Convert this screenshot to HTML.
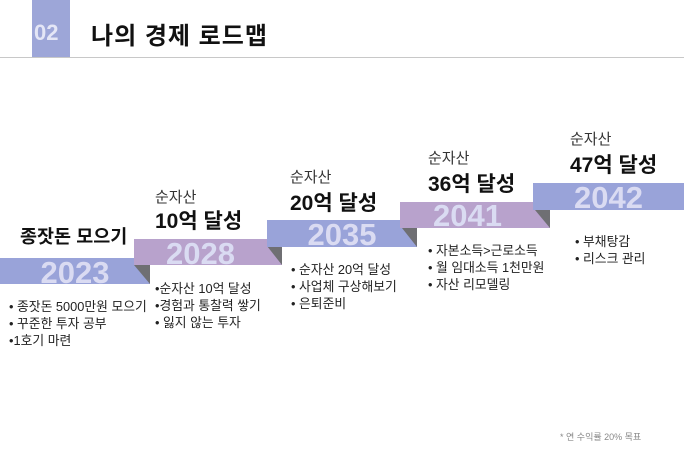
<!DOCTYPE html>
<html><head><meta charset="utf-8"><style>
body{margin:0;width:684px;height:473px;background:#fff;position:relative;overflow:hidden;font-family:"Liberation Sans","Noto Sans CJK KR",sans-serif;color:#222}
.a{position:absolute;white-space:nowrap}
.s{font-size:15px;color:#333}
.b{font-weight:bold;font-size:21px;color:#111}
.l{font-size:12.8px;line-height:17px;color:#222}
.y{position:absolute;font-weight:bold;font-size:31px;color:#dadbf2;text-align:center;line-height:28px}
</style></head><body>
<div class="a" style="left:32px;top:0;width:38px;height:57px;background:#9da6d8"></div>
<div class="a" style="left:34px;top:20px;font-size:22px;font-weight:bold;color:#e4e6f6">02</div>
<div class="a" style="left:91px;top:16px;font-size:24px;font-weight:bold;color:#111;letter-spacing:1px">나의 경제 로드맵</div>
<div class="a" style="left:0;top:57px;width:684px;height:1px;background:#c8c8c8"></div>
<svg class="a" style="left:0;top:0" width="684" height="473">
<rect x="0" y="258" width="150" height="26" fill="#99a3d9"/>
<polygon points="134,265 150,265 150,284" fill="#6f6f73"/>
<rect x="134" y="239" width="148" height="26" fill="#b8a2cc"/>
<polygon points="267,246 282,246 282,265" fill="#6f6f73"/>
<rect x="267" y="220" width="150" height="27" fill="#99a3d9"/>
<polygon points="402,228 417,228 417,247" fill="#6f6f73"/>
<rect x="400" y="202" width="150" height="26" fill="#b8a2cc"/>
<polygon points="535,210 550,210 550,228" fill="#6f6f73"/>
<rect x="533" y="183" width="151" height="27" fill="#99a3d9"/>
</svg>
<div class="y" style="left:10px;width:130px;top:259px">2023</div>
<div class="y" style="left:134px;width:133px;top:240px">2028</div>
<div class="y" style="left:267px;width:150px;top:221px">2035</div>
<div class="y" style="left:400px;width:135px;top:202px">2041</div>
<div class="y" style="left:533px;width:151px;top:184px">2042</div>
<div class="a" style="left:20px;top:223px;font-size:18.5px;font-weight:bold;color:#111">종잣돈 모으기</div>
<div class="a s" style="left:155px;top:186px">순자산</div>
<div class="a b" style="left:155px;top:205px">10억 달성</div>
<div class="a s" style="left:290px;top:166px">순자산</div>
<div class="a b" style="left:290px;top:187px">20억 달성</div>
<div class="a s" style="left:428px;top:147px">순자산</div>
<div class="a b" style="left:428px;top:168px">36억 달성</div>
<div class="a s" style="left:570px;top:128px">순자산</div>
<div class="a b" style="left:570px;top:149px">47억 달성</div>
<div class="a l" style="left:9px;top:298px">• 종잣돈 5000만원 모으기<br>• 꾸준한 투자 공부<br>•1호기 마련</div>
<div class="a l" style="left:155px;top:280px">•순자산 10억 달성<br>•경험과 통찰력 쌓기<br>• 잃지 않는 투자</div>
<div class="a l" style="left:291px;top:261px">• 순자산 20억 달성<br>• 사업체 구상해보기<br>• 은퇴준비</div>
<div class="a l" style="left:428px;top:242px">• 자본소득>근로소득<br>• 월 임대소득 1천만원<br>• 자산 리모델링</div>
<div class="a l" style="left:575px;top:233px">• 부채탕감<br>• 리스크 관리</div>
<div class="a" style="left:560px;top:430px;font-size:9px;color:#888">* 연 수익률 20% 목표</div>
</body></html>
